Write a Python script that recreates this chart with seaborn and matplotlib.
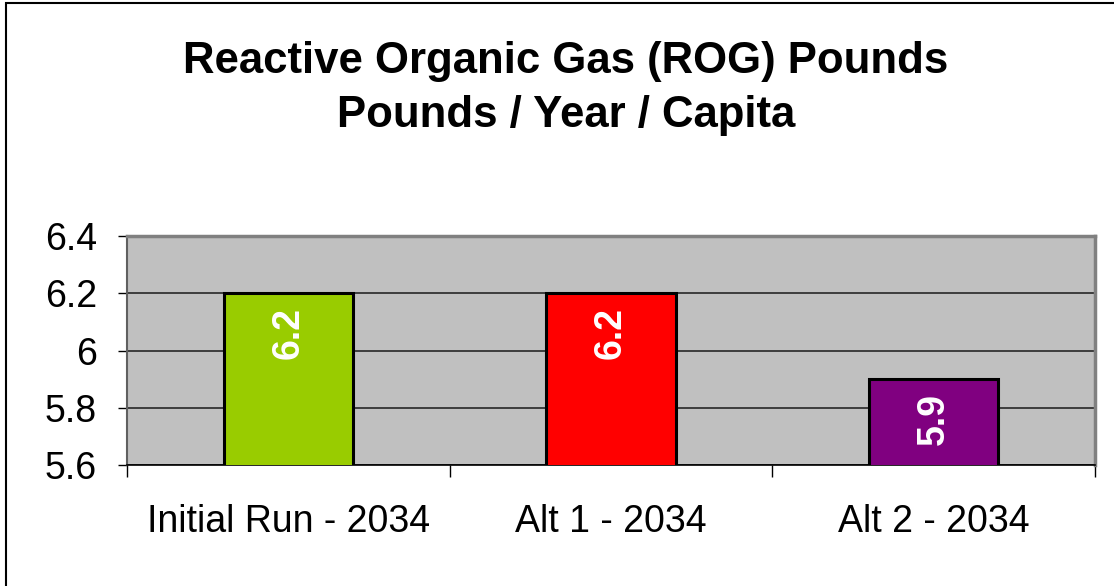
import matplotlib
matplotlib.use("Agg")
import matplotlib.pyplot as plt
import matplotlib.patches as mpatches
import seaborn as sns

categories = ["Initial Run - 2034", "Alt 1 - 2034", "Alt 2 - 2034"]
values = [6.2, 6.2, 5.9]
bar_colors = ["#99CC00", "#FF0000", "#800080"]
y_ticks = [5.6, 5.8, 6.0, 6.2, 6.4]
title_lines = ["Reactive Organic Gas (ROG) Pounds", "Pounds / Year / Capita"]

sns.set_style("white")
plt.rcParams["font.family"] = ["Liberation Sans", "DejaVu Sans"]
plt.rcParams["text.color"] = "black"
plt.rcParams["xtick.labelcolor"] = "black"
plt.rcParams["ytick.labelcolor"] = "black"

W, H = 1114, 586
fig = plt.figure(figsize=(W / 100, H / 100), dpi=100)
fig.patch.set_facecolor("white")

# plot area in pixel terms
ax = fig.add_axes([127 / W, 1 - 465 / H, (1095 - 127) / W, (465 - 236) / H])
ax.set_facecolor("#C0C0C0")

sns.barplot(x=categories, y=values, hue=categories, palette=bar_colors,
            saturation=1, width=0.4, edgecolor="black", linewidth=2.2,
            legend=False, ax=ax, zorder=3)

ax.set_ylim(5.6, 6.4)
ax.set_xlim(-0.5, 2.5)
ax.set_yticks(y_ticks)
ax.set_yticklabels([f"{v:g}" for v in y_ticks])
ax.set_xlabel("")
ax.set_ylabel("")

ax.yaxis.grid(True, color="#1a1a1a", linewidth=1.1, zorder=1)
ax.xaxis.grid(False)
ax.set_axisbelow(True)

# category boundary ticks
ax.set_xticks([-0.5, 0.5, 1.5, 2.5], minor=True)
ax.tick_params(axis="x", which="major", length=0, pad=28, labelsize=27,
               labelcolor="black")
ax.tick_params(axis="x", which="minor", length=8.6, width=1, color="black",
               direction="out", bottom=True)
ax.tick_params(axis="y", length=6.5, width=1, color="black", direction="out",
               pad=15, labelsize=27, left=True, labelcolor="black")

for side in ["top", "right"]:
    ax.spines[side].set_color("#808080")
    ax.spines[side].set_linewidth(2.5)
ax.spines["left"].set_color("#606060")
ax.spines["left"].set_linewidth(1.5)
ax.spines["bottom"].set_color("black")
ax.spines["bottom"].set_linewidth(1.2)

# value labels inside the bars
for container in ax.containers:
    for bar, v in zip(container, container.datavalues):
        ax.annotate(f"{v:g}", xy=(bar.get_x() + bar.get_width() / 2, v),
                    xytext=(0, -10), textcoords="offset points",
                    ha="center", va="top", rotation=90, color="white",
                    fontsize=27, fontweight="bold", zorder=5)

fig.text(0.508, 1 - 73 / H, title_lines[0], ha="center", va="baseline",
         fontsize=31.5, fontweight="bold", color="black")
fig.text(0.508, 1 - 127 / H, title_lines[1], ha="center", va="baseline",
         fontsize=31.5, fontweight="bold", color="black")

# chart area border (runs off the right and bottom edge)
border = mpatches.Rectangle((6 / W, -0.05), 1.1, 1.05 - 3 / H,
                            transform=fig.transFigure, fill=False,
                            edgecolor="black", linewidth=1.5)
fig.patches.append(border)

fig.savefig("out.png", dpi=100)
